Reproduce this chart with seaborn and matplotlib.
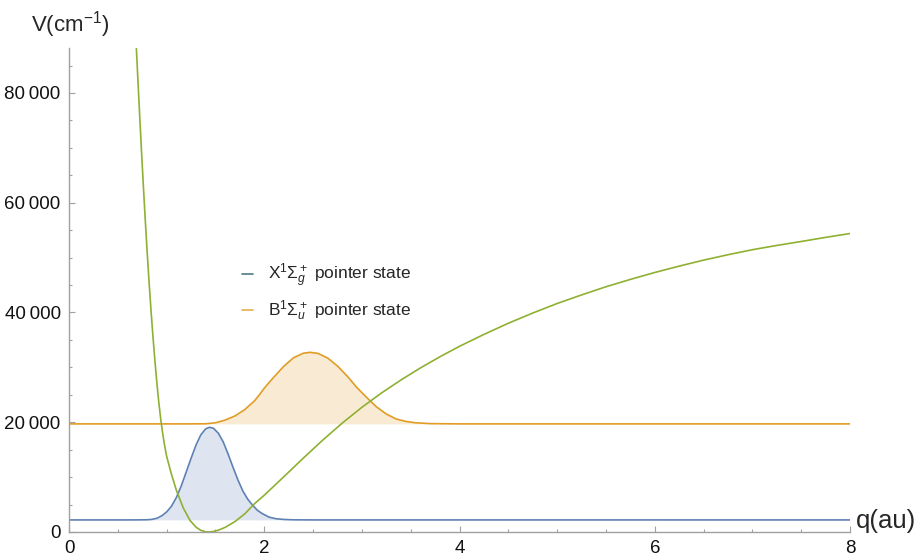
import numpy as np
import pandas as pd
import matplotlib.pyplot as plt
import seaborn as sns
from matplotlib.lines import Line2D
from matplotlib.ticker import MultipleLocator, FuncFormatter

# potential energy curve V(q) in cm^-1
q_pot = [0.685, 0.70, 0.72, 0.74, 0.76, 0.78, 0.80, 0.82, 0.84, 0.86, 0.88, 0.90,
         0.92, 0.94, 0.96, 0.98, 1.00, 1.05, 1.10, 1.17, 1.24, 1.30, 1.35, 1.40,
         1.43, 1.47, 1.53, 1.60, 1.70, 1.80, 1.90, 2.0, 2.2, 2.4, 2.6, 2.8, 3.0,
         3.2, 3.4, 3.6, 3.8, 4.0, 4.25, 4.5, 4.75, 5.0, 5.25, 5.5, 5.75, 6.0,
         6.25, 6.5, 6.75, 7.0, 7.25, 7.5, 7.75, 8.0]
v_pot = [90000, 84500, 77300, 70300, 63600, 57200, 51200, 45600, 40400, 35600, 31200, 27200,
         23600, 20500, 17900, 15700, 13800, 10500, 7600, 4400, 2100, 900, 300, 30,
         0, 60, 330, 850, 1900, 3300, 5150, 6700, 10060, 13460, 16760, 19860, 22720,
         25320, 27700, 29900, 31940, 33840, 36000, 38040, 39900, 41640, 43200, 44690, 46030, 47290,
         48450, 49540, 50530, 51440, 52220, 52940, 53690, 54390]

# X state pointer wavepacket (offset to its energy level)
q_x = [0.0, 0.6, 0.70, 0.80, 0.85, 0.90, 0.95, 1.00, 1.05, 1.10, 1.15, 1.20, 1.25,
       1.30, 1.35, 1.40, 1.44, 1.48, 1.53, 1.58, 1.63, 1.68, 1.73, 1.78, 1.83,
       1.88, 1.93, 1.98, 2.05, 2.12, 2.20, 2.30, 2.50, 8.0]
v_x = [2200, 2200, 2210, 2230, 2300, 2500, 2950, 3650, 4700, 6300, 8400, 10900, 13400,
       15800, 17700, 18800, 19080, 18900, 18000, 16400, 14200, 11800, 9500, 7500, 6000,
       4900, 3950, 3350, 2700, 2420, 2290, 2220, 2200, 2200]
x_base = 2200

# B state pointer wavepacket
q_b = [0.0, 1.2, 1.40, 1.50, 1.60, 1.70, 1.80, 1.90, 1.95, 2.00, 2.05, 2.10, 2.20, 2.30, 2.40,
       2.47, 2.55, 2.65, 2.75, 2.85, 2.95, 3.05, 3.15, 3.25, 3.35, 3.45, 3.55,
       3.70, 4.0, 8.0]
v_b = [19700, 19700, 19720, 19900, 20400, 21150, 22300, 23900, 25000, 26200, 27250, 28250, 30200, 31750, 32580,
       32740, 32550, 31700, 30250, 28400, 26300, 24500, 22800, 21500, 20600, 20150, 19900,
       19750, 19700, 19700]
b_base = 19700

legend_labels = [r'X$^1\Sigma_g^+$ pointer state', r'B$^1\Sigma_u^+$ pointer state']

c_blue = '#5E81B5'
c_orange = '#E19C24'
c_green = '#8FB032'
axis_grey = '#a0a0a0'

sns.set_style('ticks')
plt.rcParams['font.family'] = ['Liberation Sans', 'DejaVu Sans']
plt.rcParams['mathtext.fontset'] = 'custom'
plt.rcParams['mathtext.rm'] = 'Liberation Sans'
plt.rcParams['mathtext.it'] = 'Liberation Sans:italic'
plt.rcParams['mathtext.sf'] = 'Liberation Sans'

fig = plt.figure(figsize=(9.21, 5.58), dpi=100)
ax = fig.add_axes([69 / 921, 1 - 532 / 558, 781 / 921, 484 / 558])

ax.fill_between(q_x, v_x, x_base, color=c_blue, alpha=0.2, lw=0)
ax.fill_between(q_b, v_b, b_base, color=c_orange, alpha=0.2, lw=0)
sns.lineplot(x=q_x, y=v_x, ax=ax, color=c_blue, linewidth=1.2, errorbar=None)
sns.lineplot(x=q_b, y=v_b, ax=ax, color=c_orange, linewidth=1.2, errorbar=None)
sns.lineplot(x=q_pot, y=v_pot, ax=ax, color=c_green, linewidth=1.2, errorbar=None)

ax.set_xlim(0, 8)
ax.set_ylim(0, 88200)
ax.xaxis.set_major_locator(MultipleLocator(2))
ax.xaxis.set_minor_locator(MultipleLocator(0.5))
ax.yaxis.set_major_locator(MultipleLocator(20000))
ax.yaxis.set_minor_locator(MultipleLocator(5000))
ax.yaxis.set_major_formatter(FuncFormatter(lambda v, p: f"{int(v):,}".replace(",", "\u2009")))

sns.despine(ax=ax)
for side in ['left', 'bottom']:
    ax.spines[side].set_color(axis_grey)
    ax.spines[side].set_linewidth(1.0)
ax.tick_params(which='both', direction='in', color=axis_grey, width=0.8,
               labelsize=13.5, labelcolor='#111111')
ax.tick_params(which='major', length=4.5, pad=6)
ax.tick_params(which='minor', length=2.5)

ax.set_xlabel('')
ax.set_ylabel('')
ax.annotate('q(au)', xy=(1, 0), xycoords='axes fraction', xytext=(6, 11),
            textcoords='offset pixels', ha='left', va='center', fontsize=18.5)
ax.annotate('V(cm$^{-1}$)', xy=(0, 1), xycoords='axes fraction', xytext=(1, 23),
            textcoords='offset pixels', ha='center', va='center', fontsize=16)

handles = [Line2D([], [], color='#4a7c82', lw=1.2), Line2D([], [], color='#e3b04e', lw=1.2)]
ax.legend(handles, legend_labels, loc='center left', bbox_to_anchor=(0.222, 0.495),
          frameon=False, fontsize=12.5, handlelength=0.6, handletextpad=0.85,
          labelspacing=0.5, borderpad=0, borderaxespad=0)

fig.savefig('out.png', dpi=100)
